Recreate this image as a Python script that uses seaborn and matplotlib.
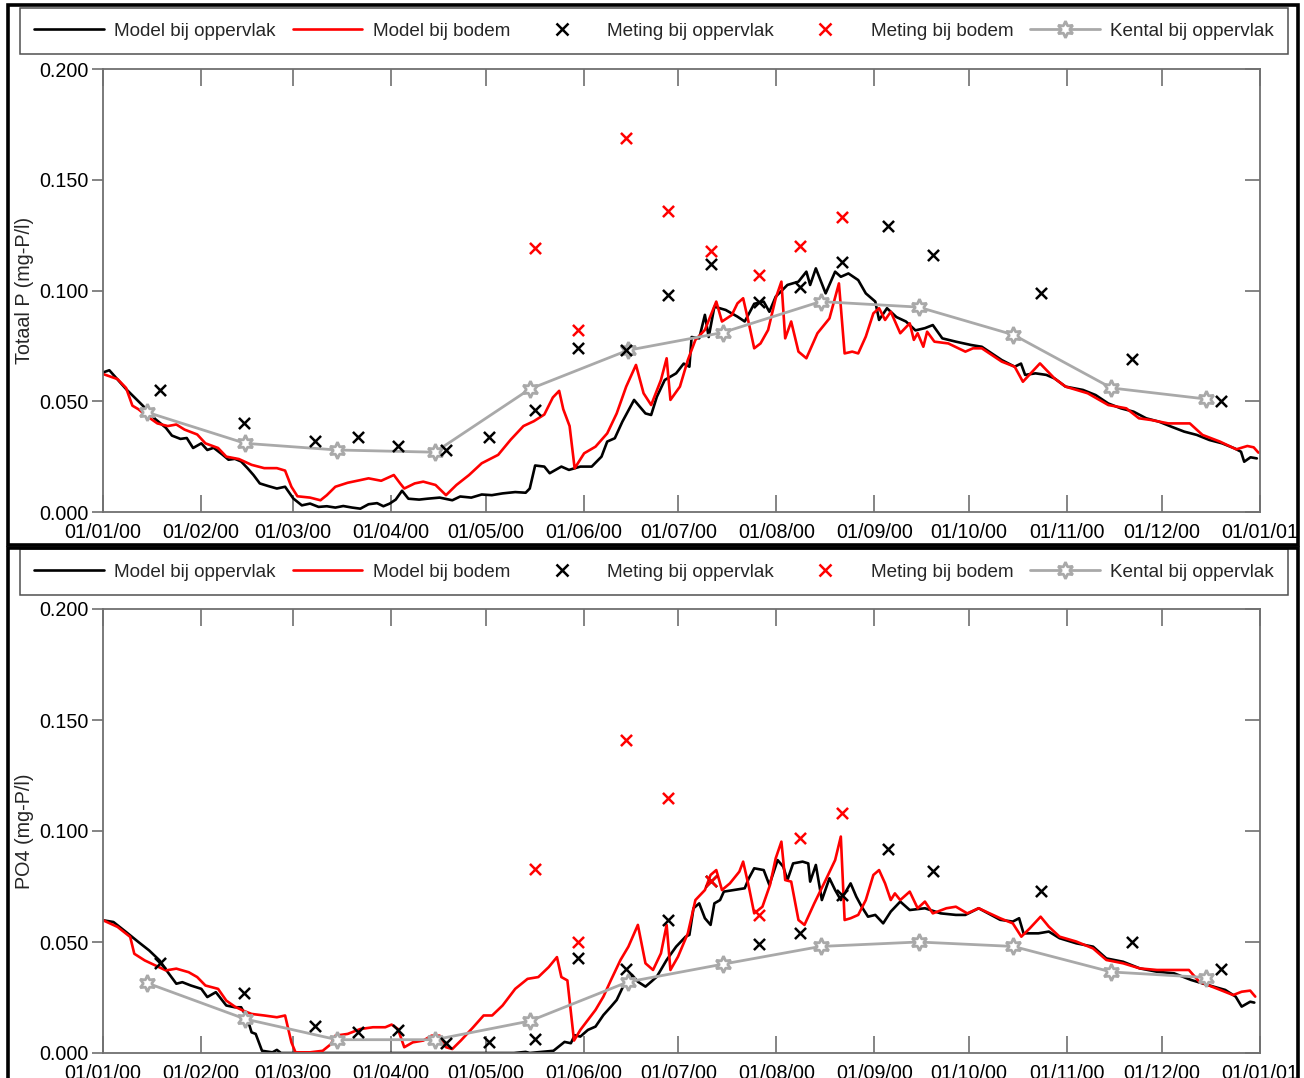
import numpy as np
import pandas as pd
import matplotlib
matplotlib.use("Agg")
import matplotlib.pyplot as plt
import matplotlib.dates as mdates
import seaborn as sns
from matplotlib.patches import Rectangle
from matplotlib.lines import Line2D
from matplotlib.ticker import FormatStrFormatter

sns.set_style("white")
plt.rcParams["font.family"] = ["Liberation Sans", "DejaVu Sans"]

# ---------------- data (days since 2000-01-01) ----------------
tp_surf_days = [0, 2, 7.3, 12.6, 16.5, 19.9, 21.8, 24.5, 26.5, 28.5, 31.1, 33, 35, 37.7, 39.7, 41.7, 43.7, 45.7,
                47.6, 49.6, 52.3, 55, 57.6, 60.2, 62.9, 65.5, 68.2, 70.8, 73.5, 76, 78.8, 81.4, 84, 86.7, 88.7,
                90.7, 92.6, 94.6, 96.6, 100, 102.6, 106.5, 110.5, 113, 116.5, 119.8, 123, 126.4, 130.4, 133.7,
                135, 136.7, 139.6, 141.3, 145, 147.4, 151, 154.6, 157.7, 159.5, 161.9, 164.3, 168, 171.6, 173.4,
                175.2, 177.7, 181.3, 183.7, 185.5, 186.2, 188.6, 190.4, 191.6, 193.4, 197, 200.7, 203, 206, 209,
                210.8, 212.8, 216.5, 220, 222.5, 223.7, 225.5, 228.6, 231.6, 233.4, 235.8, 238.9, 241.3, 244.3,
                245.5, 248, 251, 254, 257, 260, 262.5, 265.5, 269.8, 274.6, 278, 284.3, 288.4, 290.4, 291.7, 295,
                298.4, 301, 304.5, 310, 314, 318, 322, 326, 330, 334, 338, 342, 346, 350, 354, 358, 360, 361, 363,
                365]
tp_surf_vals = [0.063, 0.064, 0.0555, 0.048, 0.042, 0.038, 0.0345, 0.033, 0.0334, 0.0289, 0.031, 0.028, 0.029,
                0.026, 0.0236, 0.024, 0.0228, 0.0198, 0.0167, 0.0129, 0.0117, 0.0106, 0.0114, 0.0061, 0.003,
                0.0038, 0.0023, 0.0026, 0.002, 0.0027, 0.002, 0.0015, 0.0035, 0.004, 0.0026, 0.0038, 0.0056,
                0.0096, 0.006, 0.0056, 0.006, 0.0065, 0.0053, 0.007, 0.0065, 0.0079, 0.0076, 0.0084, 0.009,
                0.0087, 0.0106, 0.021, 0.0205, 0.0175, 0.0205, 0.019, 0.0205, 0.0205, 0.025, 0.0318, 0.0333,
                0.0408, 0.0506, 0.0445, 0.0438, 0.052, 0.0596, 0.0626, 0.067, 0.0656, 0.079, 0.0784, 0.089, 0.079,
                0.0927, 0.0912, 0.0882, 0.086, 0.094, 0.095, 0.0904, 0.0972, 0.1025, 0.104, 0.1085, 0.1025, 0.110,
                0.0987, 0.1085, 0.1062, 0.1077, 0.1047, 0.0987, 0.095, 0.0867, 0.092, 0.088, 0.086, 0.082, 0.083,
                0.0844, 0.0784, 0.0769, 0.0754, 0.0746, 0.0686, 0.0656, 0.067, 0.0619, 0.0626, 0.0619, 0.0603,
                0.0566, 0.0551, 0.0528, 0.049, 0.0468, 0.0453, 0.0423, 0.0408, 0.0385, 0.0363, 0.0348, 0.0325,
                0.031, 0.0287, 0.0272, 0.0227, 0.0247, 0.0242]

tp_bot_days = [0, 4.6, 7.3, 9.3, 11.2, 13.9, 17.2, 20.5, 23.2, 25.8, 29.8, 32.4, 36.4, 39, 43, 47, 51, 55, 57.6,
               59.6, 61.5, 65.5, 68.8, 70.8, 73.5, 77.4, 81.4, 84, 88, 92, 94, 95.3, 98.6, 101.3, 105.2, 108.5,
               111.8, 115.8, 119.8, 125, 129, 133, 136.3, 139.6, 142.3, 144.3, 145.6, 147.6, 149.2, 152.2, 155.8,
               159.5, 162.5, 165.5, 168.6, 171, 173.4, 176.5, 178.3, 179.5, 182.5, 185, 187.4, 190.4, 194, 195.8,
               198.9, 200.7, 202.5, 204.3, 206, 208, 210.4, 212.8, 214.6, 215.8, 217.7, 220, 222.5, 226, 229.8,
               232.8, 234.6, 237, 238.9, 241.3, 243.7, 245.5, 247.4, 249.2, 252.2, 255.2, 256.5, 257.7, 259.5,
               260.7, 263, 267.4, 272.8, 275.2, 278, 284.3, 288.4, 291, 296.4, 301, 304.5, 311.5, 318, 323.7,
               327.7, 331.7, 337, 343.8, 347.8, 353.3, 358.5, 362, 364, 365.5]
tp_bot_vals = [0.0623, 0.060, 0.056, 0.048, 0.0464, 0.0433, 0.040, 0.0388, 0.0395, 0.0372, 0.035, 0.031, 0.0289,
               0.025, 0.0239, 0.0213, 0.0198, 0.0198, 0.0187, 0.0114, 0.0071, 0.0065, 0.0053, 0.0076, 0.0114,
               0.0132, 0.0144, 0.0152, 0.0141, 0.0167, 0.0129, 0.0106, 0.0129, 0.0137, 0.0122, 0.0076, 0.0122,
               0.0167, 0.022, 0.0258, 0.0327, 0.0388, 0.041, 0.044, 0.0517, 0.0547, 0.0464, 0.0388, 0.0197,
               0.0265, 0.0295, 0.0355, 0.0445, 0.0566, 0.0664, 0.0536, 0.0483, 0.0596, 0.0694, 0.0506, 0.0566,
               0.0686, 0.0777, 0.0822, 0.095, 0.086, 0.0889, 0.0942, 0.0965, 0.0852, 0.0739, 0.0761, 0.0822,
               0.0965, 0.104, 0.0784, 0.086, 0.0724, 0.0694, 0.0807, 0.0874, 0.1032, 0.0716, 0.0724, 0.0716,
               0.0792, 0.0897, 0.092, 0.0867, 0.0904, 0.0807, 0.0852, 0.0777, 0.0807, 0.0746, 0.0814, 0.0769,
               0.0761, 0.0724, 0.0739, 0.0739, 0.0679, 0.0656, 0.0588, 0.0671, 0.0603, 0.0566, 0.0536, 0.0483,
               0.0468, 0.0423, 0.0415, 0.040, 0.040, 0.0348, 0.0318, 0.0283, 0.0298, 0.0292, 0.0268]

po4_surf_days = [0, 3.3, 7.3, 11.2, 14.6, 17.9, 20.5, 23.2, 25.1, 27.8, 31.1, 33, 35.7, 39, 41.7, 43.7, 45.7, 47,
                 48.3, 50.3, 53.6, 55, 56.3, 70, 90, 110, 130, 133.7, 135, 142.5, 146, 148, 149.2, 151, 153.4,
                 155.8, 158.3, 160.7, 162.5, 165, 167.4, 169.2, 171.6, 173.4, 175.2, 178.3, 181.3, 184.3, 185.5,
                 186.8, 188.6, 190.4, 192.2, 193.4, 195.2, 196.4, 199.5, 203, 204.3, 206, 209, 210.8, 213.4, 215.2,
                 216.5, 218.3, 221.3, 223.1, 223.7, 225.5, 227.4, 229.8, 231.6, 233.4, 236.5, 238.3, 240, 242,
                 244.3, 246.8, 249.2, 252.2, 255.2, 260, 265, 269.8, 272.8, 277, 283.8, 287.8, 289.8, 291.2,
                 295.9, 299.2, 302.6, 307.9, 313.2, 317.4, 322.7, 328, 333.4, 338.8, 344.2, 349.6, 355, 358.3,
                 360.2, 362.9, 364.2]
po4_surf_vals = [0.0598, 0.059, 0.0545, 0.050, 0.0462, 0.0417, 0.0364, 0.0312, 0.0319, 0.0304, 0.0289, 0.0252,
                 0.0274, 0.0214, 0.0206, 0.0206, 0.0154, 0.0093, 0.0086, 0.001, 0.0003, 0.0014, 0.0, 0.0, 0.0, 0.0,
                 0.0, 0.0005, 0.0, 0.001, 0.005, 0.0044, 0.008, 0.0074, 0.0104, 0.0119, 0.0171, 0.0209, 0.0239,
                 0.0314, 0.0351, 0.0321, 0.0299, 0.0321, 0.0344, 0.0419, 0.0479, 0.0524, 0.0532, 0.0652, 0.0674,
                 0.0607, 0.0577, 0.0674, 0.0689, 0.0727, 0.0734, 0.0742, 0.0787, 0.0832, 0.0824, 0.0757, 0.0869,
                 0.0839, 0.0779, 0.0854, 0.0862, 0.0854, 0.0772, 0.0847, 0.0689, 0.0787, 0.0734, 0.0689, 0.0764,
                 0.0704, 0.0659, 0.0614, 0.0622, 0.0584, 0.0637, 0.0682, 0.0644, 0.0652, 0.0629, 0.0622, 0.0622,
                 0.0652, 0.060, 0.0592, 0.0607, 0.0539, 0.0539, 0.0547, 0.0517, 0.0494, 0.0479, 0.0426, 0.0411,
                 0.0381, 0.0366, 0.0359, 0.0329, 0.0306, 0.0284, 0.0254, 0.0209, 0.0231, 0.0227]

po4_bot_days = [0, 4.6, 8.6, 9.9, 13.2, 16.5, 19.9, 23.2, 27.1, 29.8, 32.4, 36.4, 39, 41.7, 44.3, 47, 51, 55, 57.6,
                59.6, 60.9, 65.5, 69.5, 72.1, 73.5, 77.4, 81.4, 85.4, 89.3, 91.3, 93.3, 95.3, 98, 101.3, 103.9,
                106.5, 108.5, 110.5, 113.2, 117.1, 120.4, 123.1, 126.4, 130.4, 134.3, 137.7, 141, 143.6, 145,
                146.9, 147.6, 149, 151, 153.4, 155.8, 158.3, 160.7, 163.7, 166.2, 169.2, 171.6, 174, 176.5, 178.3,
                179.5, 181.9, 185, 187.4, 190.4, 192.2, 194, 195.8, 198.3, 201.3, 202.5, 204.3, 206, 208.6, 211,
                212.8, 214.6, 215.8, 217.7, 220, 221.9, 225, 228.6, 231.6, 233.4, 234.6, 236.5, 238.9, 241.3,
                243.7, 245.5, 247.4, 249.2, 250.5, 252.2, 255.2, 257.7, 260, 262.5, 266.8, 269.8, 273.4, 277,
                283.8, 287.8, 290.5, 293.2, 296.6, 299.2, 302.6, 307.9, 313.2, 317.4, 322.7, 328, 333.4, 338.8,
                343.5, 346.8, 352.2, 357.5, 360.2, 362.9, 364.5]
po4_bot_vals = [0.0598, 0.0568, 0.0523, 0.0447, 0.0417, 0.0395, 0.0372, 0.038, 0.0364, 0.0342, 0.0304, 0.0289,
                0.0236, 0.0209, 0.0191, 0.0176, 0.0169, 0.0161, 0.0169, 0.0048, 0.0003, 0.0003, 0.001, 0.004,
                0.0078, 0.0086, 0.0108, 0.0116, 0.0116, 0.0128, 0.0108, 0.0026, 0.0048, 0.0056, 0.0078, 0.0078,
                0.0026, 0.0018, 0.0056, 0.0116, 0.0169, 0.0169, 0.0214, 0.0289, 0.0334, 0.0342, 0.0387, 0.0432,
                0.0342, 0.0327, 0.0236, 0.0056, 0.0104, 0.0149, 0.0194, 0.0254, 0.0329, 0.0419, 0.0479, 0.0577,
                0.0404, 0.0374, 0.0449, 0.0577, 0.0374, 0.0434, 0.0539, 0.0689, 0.0734, 0.0802, 0.0824, 0.0734,
                0.0764, 0.0817, 0.0862, 0.0749, 0.0629, 0.0659, 0.0757, 0.0877, 0.0952, 0.0779, 0.0772, 0.0599,
                0.0577, 0.0674, 0.0779, 0.0869, 0.0975, 0.0599, 0.0607, 0.0622, 0.0689, 0.0802, 0.0824, 0.0764,
                0.0689, 0.0719, 0.0689, 0.0727, 0.0652, 0.0682, 0.0629, 0.0652, 0.0659, 0.0629, 0.0652, 0.0607,
                0.0584, 0.0524, 0.0562, 0.0614, 0.0569, 0.0524, 0.0502, 0.0471, 0.0419, 0.0404, 0.0381, 0.0374,
                0.0374, 0.0374, 0.0321, 0.0291, 0.0261, 0.0276, 0.0281, 0.0254]

meas_days = [18, 44.6, 67, 80.7, 93.3, 108.5, 122, 136.7, 150.3, 165.5, 178.7, 192.3, 207.5, 220.5, 233.8,
             248.3, 262.6, 296.7, 325.5, 353.7]
nan = np.nan
tp_meas_surf = [0.055, 0.040, 0.032, 0.034, 0.030, 0.028, 0.034, 0.046, 0.074, 0.073, 0.098, 0.112, 0.0948,
                0.1016, 0.113, 0.129, 0.116, 0.099, 0.069, 0.050]
tp_meas_bot = [nan, nan, nan, nan, nan, nan, nan, 0.119, 0.082, 0.169, 0.136, 0.118, 0.107, 0.120, 0.133,
               nan, nan, nan, nan, nan]
po4_meas_surf = [0.0405, 0.027, 0.012, 0.0095, 0.0104, 0.0047, 0.0051, 0.0065, 0.043, 0.038, 0.060, 0.0776,
                 0.049, 0.054, 0.071, 0.092, 0.082, 0.073, 0.050, 0.038]
po4_meas_bot = [nan, nan, nan, nan, nan, nan, nan, 0.083, 0.050, 0.141, 0.115, 0.0775, 0.062, 0.097, 0.108,
                nan, nan, nan, nan, nan]

kental_days = [14, 45, 74, 105, 135, 166, 196, 227, 258, 288, 319, 349]
tp_kental = [0.045, 0.031, 0.028, 0.027, 0.0555, 0.073, 0.081, 0.095, 0.0925, 0.080, 0.056, 0.051]
po4_kental = [0.0315, 0.0153, 0.006, 0.006, 0.0144, 0.032, 0.040, 0.048, 0.050, 0.048, 0.0365, 0.034]

labels = ["Model bij oppervlak", "Model bij bodem", "Meting bij oppervlak", "Meting bij bodem",
          "Kental bij oppervlak"]
y_ticks = [0.0, 0.05, 0.10, 0.15, 0.20]

# ---------------- drawing ----------------
START = pd.Timestamp("2000-01-01")
END = pd.Timestamp("2001-01-01")


def to_dates(days):
    return START + pd.to_timedelta(np.asarray(days, dtype=float), unit="D")


W, H = 1304, 1078
fig = plt.figure(figsize=(W / 100, H / 100), dpi=100)

GRAY = "#a9a9a9"
SPINE = "#707070"
STAR = (6, 1, 0)
TICK_FS = 14.2
LEG_FS = 13.6

panels = [
    dict(top=69, bottom=512, frame=(8, 5, 1298, 545), leg=(20, 12, 1288, 50), ylabel="Totaal P (mg-P/l)",
         surf=(tp_surf_days, tp_surf_vals), bot=(tp_bot_days, tp_bot_vals),
         msurf=tp_meas_surf, mbot=tp_meas_bot, kental=tp_kental),
    dict(top=609, bottom=1053, frame=(8, 548, 1298, 1090), leg=(20, 553, 1288, 591), ylabel="PO4 (mg-P/l)",
         surf=(po4_surf_days, po4_surf_vals), bot=(po4_bot_days, po4_bot_vals),
         msurf=po4_meas_surf, mbot=po4_meas_bot, kental=po4_kental),
]

for p in panels:
    x0, y0, x1, y1 = p["frame"]
    fig.patches.append(Rectangle((x0 / W, 1 - y1 / H), (x1 - x0) / W, (y1 - y0) / H, transform=fig.transFigure,
                                 fill=False, lw=2.6, ec="black", zorder=0))
    ax = fig.add_axes([103 / W, 1 - p["bottom"] / H, (1260 - 103) / W, (p["bottom"] - p["top"]) / H])

    sd, sv = p["surf"]
    bd, bv = p["bot"]
    sns.lineplot(x=to_dates(sd), y=sv, ax=ax, color="black", lw=1.9, estimator=None, legend=False)
    sns.lineplot(x=to_dates(bd), y=bv, ax=ax, color="#ff0000", lw=1.9, estimator=None, legend=False)
    sns.lineplot(x=to_dates(kental_days), y=p["kental"], ax=ax, color=GRAY, lw=2.0, estimator=None,
                 marker=STAR, markersize=12, markerfacecolor="white", markeredgecolor=GRAY,
                 markeredgewidth=2.0, legend=False)
    sns.scatterplot(x=to_dates(meas_days), y=p["msurf"], ax=ax, marker="x", s=64, color="black",
                    linewidth=1.8, legend=False, zorder=5)
    sns.scatterplot(x=to_dates(meas_days), y=p["mbot"], ax=ax, marker="x", s=64, color="#ff0000",
                    linewidth=1.8, legend=False, zorder=6)

    ax.set_xlim(START, END)
    ax.set_ylim(0, 0.2)
    ax.set_yticks(y_ticks)
    ax.yaxis.set_major_formatter(FormatStrFormatter("%.3f"))
    ax.set_xticks(pd.date_range(START, END, freq="MS"))
    ax.xaxis.set_major_formatter(mdates.DateFormatter("%d/%m/%y"))
    ax.set_xlabel("")
    for s in ax.spines.values():
        s.set_visible(True)
        s.set_color(SPINE)
        s.set_linewidth(1.3)
    ax.tick_params(axis="x", which="major", direction="in", top=True, bottom=True, length=12, width=1.2,
                   color=SPINE, labelsize=TICK_FS, pad=8, labelcolor="black")
    ax.tick_params(axis="y", which="major", direction="out", left=True, right=False, length=8, width=1.2,
                   color=SPINE, labelsize=TICK_FS, pad=2, labelcolor="black")
    sec = ax.secondary_yaxis("right")
    sec.set_yticks(y_ticks)
    sec.tick_params(axis="y", direction="in", length=11, width=1.2, color=SPINE, labelright=False)
    sec.spines["right"].set_visible(False)

    ax.set_ylabel(p["ylabel"], fontsize=TICK_FS)
    ax.yaxis.set_label_coords((34 - 103) / (1260 - 103), 0.5)

    handles = [
        Line2D([], [], color="black", lw=1.9),
        Line2D([], [], color="#ff0000", lw=1.9),
        Line2D([], [], color="black", ls="none", marker="x", ms=8, mew=1.8),
        Line2D([], [], color="#ff0000", ls="none", marker="x", ms=8, mew=1.8),
        Line2D([], [], color=GRAY, lw=2.0, marker=STAR, ms=12, mfc="white", mec=GRAY, mew=2.0),
    ]
    lx0, ly0, lx1, ly1 = p["leg"]
    leg = ax.legend(handles, labels, ncol=5, mode="expand", loc="center left",
                    bbox_to_anchor=(lx0 / W, 1 - ly1 / H, (lx1 - lx0) / W, (ly1 - ly0) / H),
                    bbox_transform=fig.transFigure, borderaxespad=0, fontsize=LEG_FS, handlelength=3.7,
                    handletextpad=0.55, columnspacing=0.9, borderpad=0.75, frameon=True, fancybox=False,
                    shadow=False, framealpha=1, edgecolor="#505050", numpoints=1)
    leg.get_frame().set_linewidth(1.1)

fig.savefig("out.png", dpi=100)
